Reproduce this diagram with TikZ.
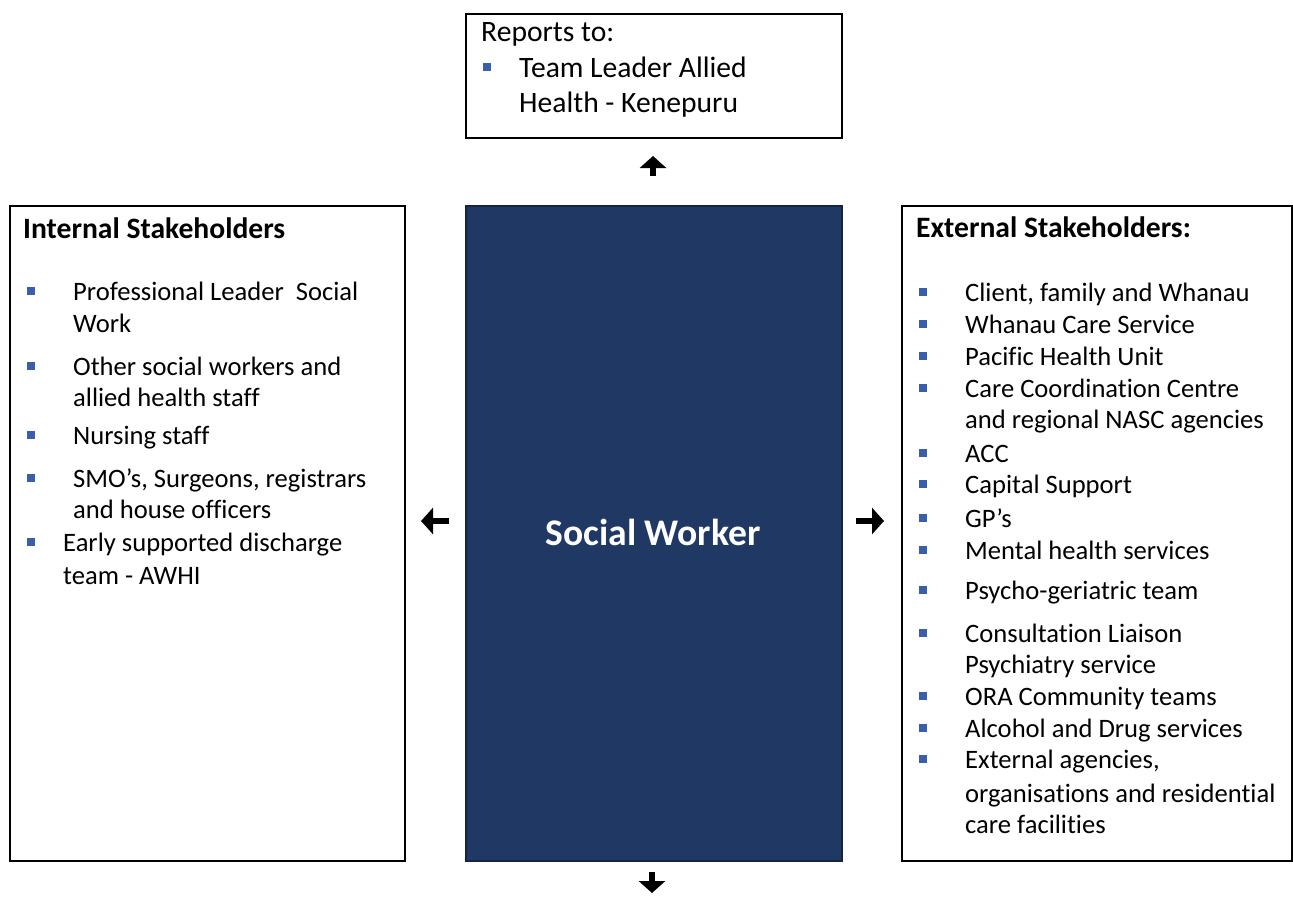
\documentclass[tikz,border=0pt]{standalone}
\usepackage{fontspec}
\setmainfont[Ligatures={NoCommon,NoContextual}]{Carlito}
\usetikzlibrary{arrows.meta}
\definecolor{navy}{RGB}{32,56,100}
\definecolor{navyline}{RGB}{20,36,66}
\definecolor{bulletblue}{RGB}{58,95,170}
\tikzset{
  box/.style={draw=black, line width=1.5bp, fill=white, inner sep=0pt, anchor=north west},
  centerbox/.style={draw=navyline, line width=1.5bp, fill=navy, inner sep=0pt, anchor=north west},
  txt/.style={anchor=base west, inner sep=0pt, font=\fontsize{26.6bp}{32bp}\selectfont},
  bigtxt/.style={anchor=base west, inner sep=0pt, font=\fontsize{29.6bp}{35bp}\selectfont},
  head/.style={anchor=base west, inner sep=0pt, font=\fontsize{29.6bp}{35bp}\selectfont\bfseries},
  bul/.style={fill=bulletblue, draw=none, inner sep=0pt, minimum size=7.5bp, rectangle},
  glypharrow/.style={line width=5.5bp, -{Triangle[width=26bp,length=12bp]}}
}
\begin{document}
\begin{tikzpicture}[x=1bp,y=-1bp]
\useasboundingbox (0,0) rectangle (1293,920);
% boxes
\node[box, minimum width=376bp, minimum height=124bp] (top) at (465,13) {};
\node[box, minimum width=395bp, minimum height=655bp] (left) at (9,205) {};
\node[centerbox, minimum width=376bp, minimum height=655bp] (center) at (465,205) {};
\node[box, minimum width=390bp, minimum height=655bp] (right) at (901,205) {};
% top box text
\node[bigtxt] (rep) at (481,41) {Reports to:};
\node[bul] (tb1) at (487,67) {};
\node[bigtxt] (t1) at (519,77) {Team Leader Allied};
\node[bigtxt] (t2) at (519,112) {Health - Kenepuru};
% centre
\node[font=\fontsize{37.6bp}{44bp}\selectfont\bfseries, text=white, inner sep=0pt, anchor=base] (sw) at (653,545) {Social Worker};
% left list
\node[head] (lh) at (23,238) {Internal Stakeholders};
\foreach \y/\n in {300/lb1,375/lb2,444/lb3,487/lb4,551/lb5}
  \node[bul] (\n) at (31,\y-9) {};
\node[txt] (l1) at (73,300) {Professional Leader\ \ Social};
\node[txt] (l2) at (73,332) {Work};
\node[txt] (l3) at (73,375) {Other social workers and};
\node[txt] (l4) at (73,406) {allied health staff};
\node[txt] (l5) at (73,444) {Nursing staff};
\node[txt] (l6) at (73,487) {SMO’s, Surgeons, registrars};
\node[txt] (l7) at (73,518) {and house officers};
\node[txt] (l8) at (63,551) {Early supported discharge};
\node[txt] (l9) at (63,584) {team - AWHI};
% right list
\node[head] (rh) at (916,237) {External Stakeholders:};
\foreach \y/\n in {301/rb1,333/rb2,365/rb3,397/rb4,462/rb5,493/rb6,527/rb7,559/rb8,599/rb9,642/rb10,705/rb11,737/rb12,768/rb13}
  \node[bul] (\n) at (923,\y-9) {};
\node[txt] (r1) at (965,301) {Client, family and Whanau};
\node[txt] (r2) at (965,333) {Whanau Care Service};
\node[txt] (r3) at (965,365) {Pacific Health Unit};
\node[txt] (r4) at (965,397) {Care Coordination Centre};
\node[txt] (r5) at (965,428) {and regional NASC agencies};
\node[txt] (r6) at (965,462) {ACC};
\node[txt] (r7) at (965,493) {Capital Support};
\node[txt] (r8) at (965,527) {GP’s};
\node[txt] (r9) at (965,559) {Mental health services};
\node[txt] (r10) at (965,599) {Psycho-geriatric team};
\node[txt] (r11) at (965,642) {Consultation Liaison};
\node[txt] (r12) at (965,673) {Psychiatry service};
\node[txt] (r13) at (965,705) {ORA Community teams};
\node[txt] (r14) at (965,737) {Alcohol and Drug services};
\node[txt] (r15) at (965,768) {External agencies,};
\node[txt] (r16) at (965,802) {organisations and residential};
\node[txt] (r17) at (965,833) {care facilities};
% arrows
\coordinate (upA) at (653,176);
\coordinate (upB) at (653,156);
\coordinate (dnA) at (652,872);
\coordinate (dnB) at (652,893);
\coordinate (lfA) at (449,521);
\coordinate (lfB) at (421,521);
\coordinate (rtA) at (856,521);
\coordinate (rtB) at (884,521);
\draw[glypharrow] (upA) -- (upB);
\draw[glypharrow] (dnA) -- (dnB);
\draw[glypharrow] (lfA) -- (lfB);
\draw[glypharrow] (rtA) -- (rtB);
\end{tikzpicture}
\end{document}
